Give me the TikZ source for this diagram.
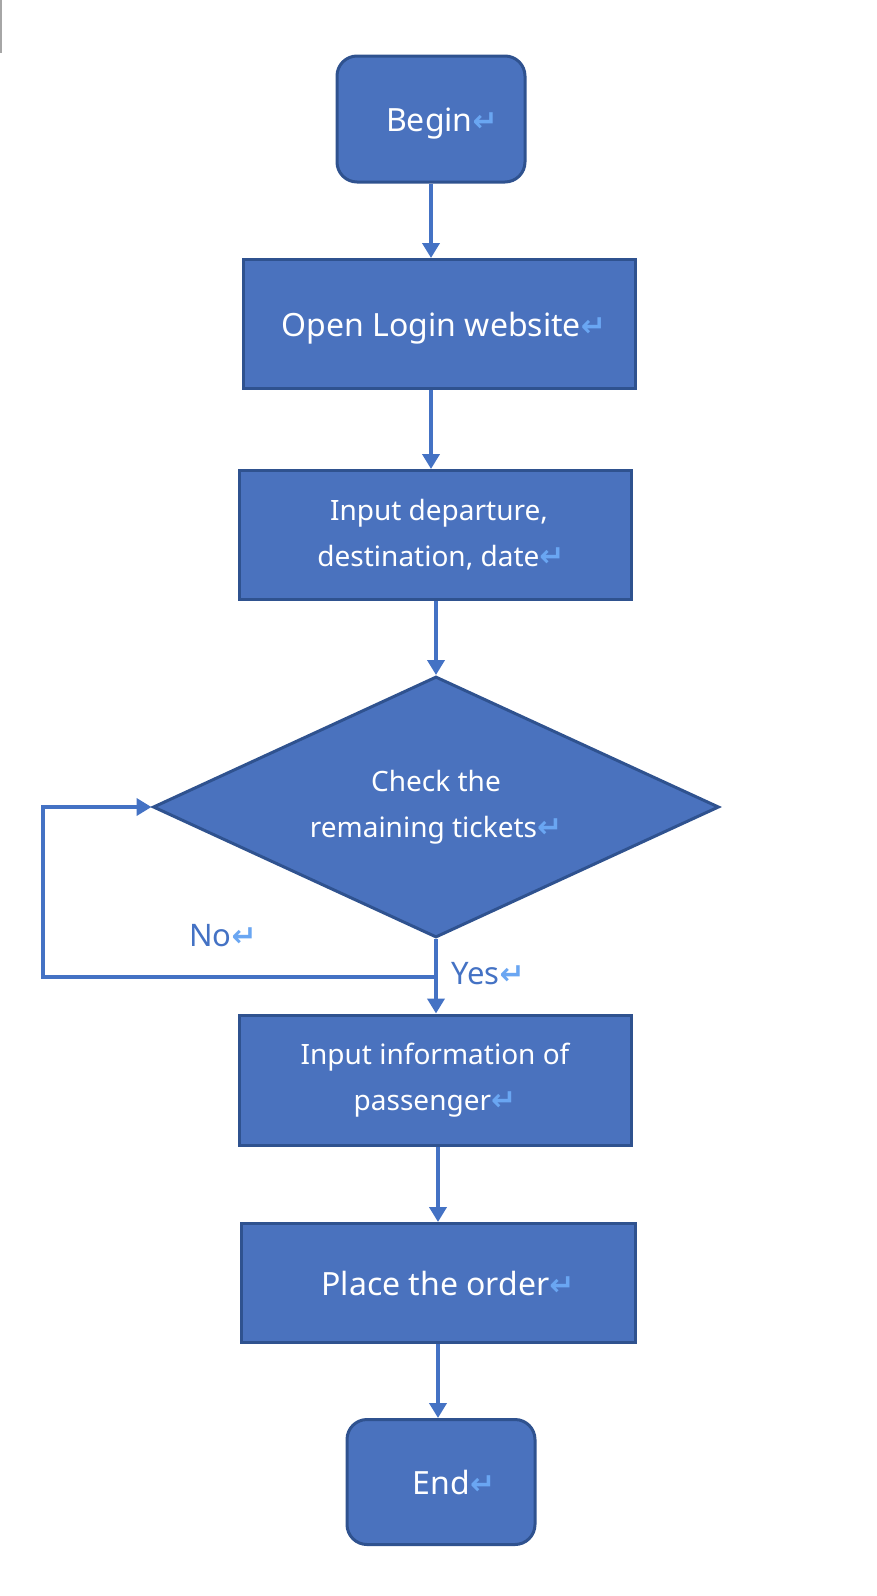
\documentclass[tikz,border=0pt]{standalone}
\usepackage{fontspec}
\setmainfont{Noto Sans}
\newfontfamily\symfont{DejaVu Sans}
\usetikzlibrary{shapes.geometric,arrows.meta}
\definecolor{boxblue}{HTML}{4A72BE}
\definecolor{edgeblue}{HTML}{2F528F}
\definecolor{lineblue}{HTML}{4472C4}
\definecolor{markblue}{HTML}{6AA6F2}
\newcommand{\retmark}{{\symfont\bfseries\color{markblue}\fontsize{30}{30}\selectfont\char"21B5}}
\tikzset{
    paso/.style={draw=edgeblue, line width=3pt, fill=boxblue, text=white,
        inner sep=0pt, align=center, font=\fontsize{32}{46}\selectfont},
    pasouno/.style={paso, text height=24pt, text depth=0pt},
    pasodos/.style={paso, font=\fontsize{28}{46}\selectfont},
    inicio/.style={pasouno, rounded corners=20pt},
    decision/.style={pasodos, diamond, aspect=2.2},
    flecha/.style={draw=lineblue, line width=4pt, -{Triangle[width=17pt,length=15pt]}},
    etiqueta/.style={text=lineblue, font=\fontsize{31}{31}\selectfont},
}
\begin{document}
\begin{tikzpicture}[x=1pt, y=-1pt]
        \useasboundingbox (0,0) rectangle (876,1596);
        \draw[gray!70, line width=1.5pt] (1,0) -- (1,53);
        % Nodos
        \node[inicio, minimum width=188, minimum height=126] (inicio) at (431,119) {\hspace*{22pt}Begin\retmark};
        \node[pasouno, minimum width=392, minimum height=129] (abrir) at (439,324) {\hspace*{10pt}Open Login website\retmark};
        \node[pasodos, minimum width=392, minimum height=129] (datos) at (435,535) {\hspace*{8pt}Input departure,\\\hspace*{12pt}destination, date\retmark};
        \node[decision, minimum width=566, minimum height=261] (comprobar) at (436,807) {Check the\\remaining tickets\retmark};
        \node[pasodos, minimum width=392, minimum height=130] (pasajero) at (435,1080) {Input information of\\passenger\retmark};
        \node[pasouno, minimum width=394, minimum height=119] (pedido) at (438,1283) {\hspace*{20pt}Place the order\retmark};
        \node[inicio, minimum width=188, minimum height=125] (fin) at (441,1482) {\hspace*{26pt}End\retmark};
        % Flechas
        \draw[flecha] (inicio.south) -- (inicio.south |- abrir.north);
        \draw[flecha] (abrir.south -| inicio.south) -- (inicio.south |- datos.north);
        \draw[flecha] (datos.south -| comprobar.north) -- (comprobar.north);
        \draw[flecha] (comprobar.south) -- (comprobar.south |- pasajero.north);
        \draw[flecha] (pasajero.south -| pedido.north) -- (pedido.north);
        \draw[flecha] (pedido.south) -- (pedido.south |- fin.north);
        % Bucle
        \coordinate (esquina) at (43,977);
        \draw[flecha] (comprobar.south |- esquina) -- (esquina) |- (comprobar.west);
        \node[etiqueta] (no) at (223,936) {No\retmark};
        \node[etiqueta] (si) at (488,974) {Yes\retmark};
    \end{tikzpicture}
\end{document}
